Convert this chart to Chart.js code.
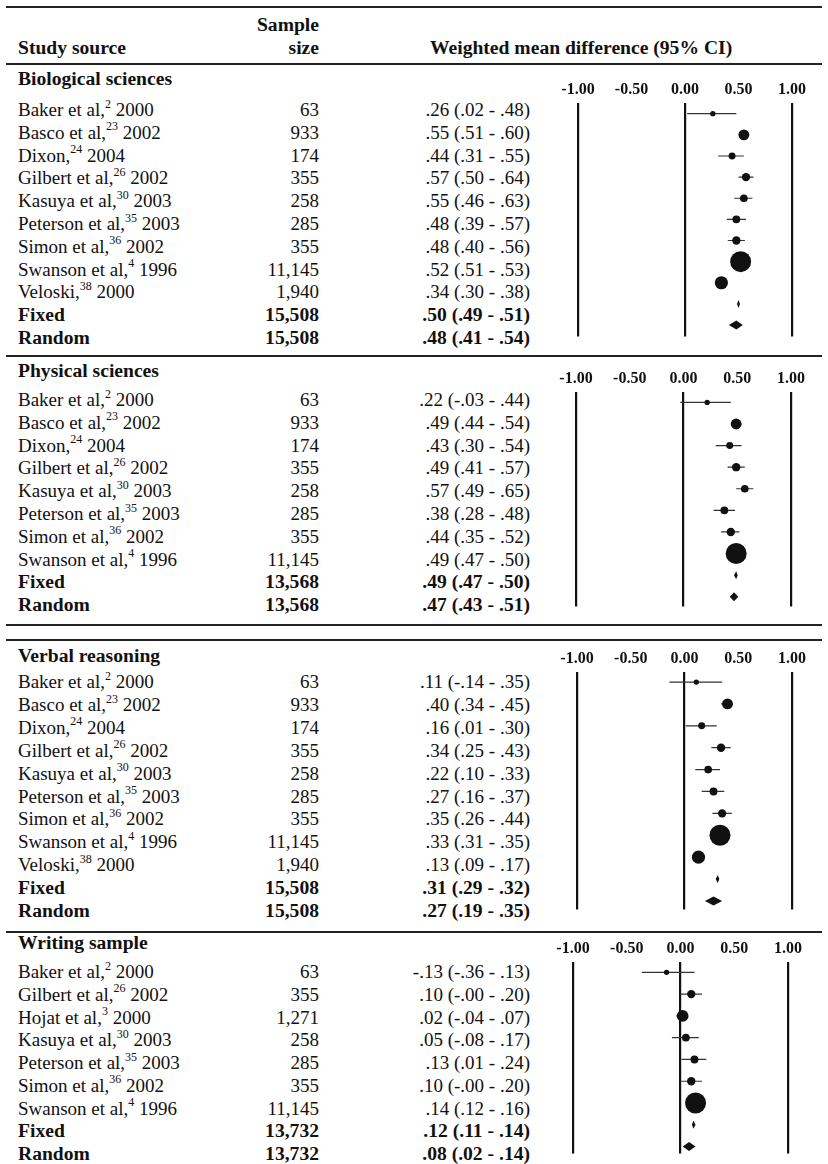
<!DOCTYPE html>
<html>
<head>
<meta charset="utf-8">
<script src="https://cdn.jsdelivr.net/npm/chart.js@4.4.1/dist/chart.umd.min.js"></script>
<style>
  html, body { margin: 0; padding: 0; background: #fff; }
  #page { position: relative; width: 828px; height: 1164px; overflow: hidden;
          font-family: "Liberation Serif", "Times New Roman", serif; color: #111; }
  .rule { position: absolute; left: 6px; width: 816px; height: 2px; background: #222; }
  .row { position: absolute; left: 0; width: 828px; height: 22px; line-height: 22px;
         font-size: 19px; white-space: nowrap; }
  .row span { position: absolute; top: 0; }
  .bold { font-weight: bold; font-size: 19.6px; }
  sup { font-size: 12px; line-height: 0; position: relative; top: -1px; }
  canvas { position: absolute; }
</style>
</head>
<body>
<div id="page"></div>
<script>
// studies (label, reference number, year)
const studyNames = ['Baker et al', 'Basco et al', 'Dixon', 'Gilbert et al', 'Hojat et al',
  'Kasuya et al', 'Peterson et al', 'Simon et al', 'Swanson et al', 'Veloski'];
const studyRefs = ['2', '23', '24', '26', '3', '30', '35', '36', '4', '38'];
const studyYears = ['2000', '2002', '2004', '2002', '2000', '2003', '2003', '2002', '1996', '2000'];

// Biological sciences
const bioStudies = ['Baker et al', 'Basco et al', 'Dixon', 'Gilbert et al', 'Kasuya et al',
  'Peterson et al', 'Simon et al', 'Swanson et al', 'Veloski'];
const bioN = [63, 933, 174, 355, 258, 285, 355, 11145, 1940];
const bioEst = [.26, .55, .44, .57, .55, .48, .48, .52, .34];
const bioLo = [.02, .51, .31, .50, .46, .39, .40, .51, .30];
const bioHi = [.48, .60, .55, .64, .63, .57, .56, .53, .38];
const bioTotal = 15508;
const bioFixed = [.50, .49, .51];
const bioRandom = [.48, .41, .54];

// Physical sciences
const physStudies = ['Baker et al', 'Basco et al', 'Dixon', 'Gilbert et al', 'Kasuya et al',
  'Peterson et al', 'Simon et al', 'Swanson et al'];
const physN = [63, 933, 174, 355, 258, 285, 355, 11145];
const physEst = [.22, .49, .43, .49, .57, .38, .44, .49];
const physLo = [-.03, .44, .30, .41, .49, .28, .35, .47];
const physHi = [.44, .54, .54, .57, .65, .48, .52, .50];
const physTotal = 13568;
const physFixed = [.49, .47, .50];
const physRandom = [.47, .43, .51];

// Verbal reasoning
const verbStudies = ['Baker et al', 'Basco et al', 'Dixon', 'Gilbert et al', 'Kasuya et al',
  'Peterson et al', 'Simon et al', 'Swanson et al', 'Veloski'];
const verbN = [63, 933, 174, 355, 258, 285, 355, 11145, 1940];
const verbEst = [.11, .40, .16, .34, .22, .27, .35, .33, .13];
const verbLo = [-.14, .34, .01, .25, .10, .16, .26, .31, .09];
const verbHi = [.35, .45, .30, .43, .33, .37, .44, .35, .17];
const verbTotal = 15508;
const verbFixed = [.31, .29, .32];
const verbRandom = [.27, .19, .35];

// Writing sample
const writStudies = ['Baker et al', 'Gilbert et al', 'Hojat et al', 'Kasuya et al',
  'Peterson et al', 'Simon et al', 'Swanson et al'];
const writN = [63, 355, 1271, 258, 285, 355, 11145];
const writEst = [-.13, .10, .02, .05, .13, .10, .14];
const writLo = [-.36, -0.00, -.04, -.08, .01, -0.00, .12];
const writHi = [.13, .20, .07, .17, .24, .20, .16];
const writTotal = 13732;
const writFixed = [.12, .11, .14];
const writRandom = [.08, .02, .14];

const axisTicks = [-1, -0.5, 0, 0.5, 1];

const panels = [
  { title: 'Biological sciences', studies: bioStudies, n: bioN, est: bioEst, lo: bioLo, hi: bioHi,
    total: bioTotal, fixed: bioFixed, random: bioRandom },
  { title: 'Physical sciences', studies: physStudies, n: physN, est: physEst, lo: physLo, hi: physHi,
    total: physTotal, fixed: physFixed, random: physRandom },
  { title: 'Verbal reasoning', studies: verbStudies, n: verbN, est: verbEst, lo: verbLo, hi: verbHi,
    total: verbTotal, fixed: verbFixed, random: verbRandom },
  { title: 'Writing sample', studies: writStudies, n: writN, est: writEst, lo: writLo, hi: writHi,
    total: writTotal, fixed: writFixed, random: writRandom }
];

// page layout (pixels)
const layout = [
  { titleY: 79, textY: 110, textStep: 22.8, x0: 578, x1: 792, top: 103, bottom: 347, dotY: 114, dotStep: 22.1 },
  { titleY: 371, textY: 400, textStep: 22.8, x0: 576, x1: 791, top: 392, bottom: 617, dotY: 402.7, dotStep: 22.67 },
  { titleY: 656, textY: 682, textStep: 22.9, x0: 577, x1: 792, top: 672, bottom: 920, dotY: 682.3, dotStep: 22.87 },
  { titleY: 943, textY: 972, textStep: 22.75, x0: 573, x1: 788, top: 962, bottom: 1164, dotY: 972.7, dotStep: 23 }
];
const rules = [7, 64, 356, 625, 640, 932];

const page = document.getElementById('page');

function fmt(v) {
  const neg = v < 0 || Object.is(v, -0);
  return (neg ? '-' : '') + Math.abs(v).toFixed(2).replace(/^0/, '');
}
function ciText(e, l, h) { return fmt(e) + ' (' + fmt(l) + ' - ' + fmt(h) + ')'; }

function addRow(cy, bold, label, n, ci) {
  const row = document.createElement('div');
  row.className = 'row' + (bold ? ' bold' : '');
  row.style.top = (cy - 11) + 'px';
  const a = document.createElement('span');
  a.style.left = '18px';
  a.innerHTML = label;
  row.appendChild(a);
  if (n !== undefined) {
    const b = document.createElement('span');
    b.style.right = (828 - 319) + 'px';
    b.textContent = n;
    row.appendChild(b);
  }
  if (ci !== undefined) {
    const c = document.createElement('span');
    c.style.right = (828 - 530) + 'px';
    c.textContent = ci;
    row.appendChild(c);
  }
  page.appendChild(row);
  return row;
}

rules.forEach(y => {
  const r = document.createElement('div');
  r.className = 'rule';
  r.style.top = (y - 1) + 'px';
  page.appendChild(r);
});

// header
addRow(25, true, '', 'Sample');
const head = addRow(48, true, 'Study source', 'size');
const wm = document.createElement('span');
wm.style.left = '430px';
wm.textContent = 'Weighted mean difference (95% CI)';
head.appendChild(wm);

function radius(n) { return 0.88 * Math.pow(n, 0.266); }

function diamonds(rows) {
  return {
    id: 'diamonds',
    afterDatasetsDraw(chart) {
      const { ctx, scales: { x, y } } = chart;
      ctx.save();
      ctx.fillStyle = '#111';
      rows.forEach(d => {
        const cy = y.getPixelForValue(d.row);
        const xm = x.getPixelForValue(d.est);
        const xl = Math.min(x.getPixelForValue(d.lo), xm - 1.5);
        const xr = Math.max(x.getPixelForValue(d.hi), xm + 1.5);
        ctx.beginPath();
        ctx.moveTo(xl, cy);
        ctx.lineTo(xm, cy - d.h);
        ctx.lineTo(xr, cy);
        ctx.lineTo(xm, cy + d.h);
        ctx.closePath();
        ctx.fill();
      });
      ctx.restore();
    }
  };
}

panels.forEach((p, k) => {
  const L = layout[k];
  addRow(L.titleY, true, p.title);
  p.studies.forEach((s, i) => {
    const j = studyNames.indexOf(s);
    const label = s + ',<sup>' + studyRefs[j] + '</sup> ' + studyYears[j];
    addRow(L.textY + i * L.textStep, false, label, p.n[i].toLocaleString('en-US'),
      ciText(p.est[i], p.lo[i], p.hi[i]));
  });
  const m = p.studies.length;
  addRow(L.textY + m * L.textStep, true, 'Fixed', p.total.toLocaleString('en-US'), ciText(...p.fixed));
  addRow(L.textY + (m + 1) * L.textStep, true, 'Random', p.total.toLocaleString('en-US'), ciText(...p.random));

  // forest plot
  const padX = 30, axisH = 27;
  const canvas = document.createElement('canvas');
  const w = L.x1 - L.x0 + 2 * padX;
  const h = L.bottom - L.top + axisH;
  canvas.width = w; canvas.height = h;
  canvas.style.left = (L.x0 - padX) + 'px';
  canvas.style.top = (L.top - axisH) + 'px';
  canvas.style.width = w + 'px'; canvas.style.height = h + 'px';
  page.appendChild(canvas);

  const yMin = -(L.dotY - L.top) / L.dotStep;
  const yMax = yMin + (L.bottom - L.top) / L.dotStep;

  const whisk = [];
  p.studies.forEach((s, i) => {
    whisk.push({ x: p.lo[i], y: i }, { x: p.hi[i], y: i }, { x: p.est[i], y: null });
  });
  const dots = p.studies.map((s, i) => ({ x: p.est[i], y: i, r: radius(p.n[i]) }));
  const summary = [
    { row: m, est: p.fixed[0], lo: p.fixed[1], hi: p.fixed[2], h: 4 },
    { row: m + 1, est: p.random[0], lo: p.random[1], hi: p.random[2], h: 4.5 }
  ];

  new Chart(canvas, {
    type: 'scatter',
    data: {
      datasets: [
        { type: 'bubble', data: dots, backgroundColor: '#111', borderWidth: 0, order: 0 },
        { type: 'line', data: whisk, borderColor: '#333', borderWidth: 1.2, pointRadius: 0,
          spanGaps: false, showLine: true, order: 1 }
      ]
    },
    options: {
      responsive: false,
      animation: false,
      layout: { padding: { left: padX, right: padX, top: 0, bottom: 0 } },
      plugins: { legend: { display: false }, tooltip: { enabled: false } },
      scales: {
        x: {
          type: 'linear', position: 'top', min: -1, max: 1,
          afterBuildTicks: ax => { ax.ticks = axisTicks.map(v => ({ value: v })); },
          ticks: {
            padding: 4, color: '#111',
            font: { family: '"Liberation Serif", serif', size: 16, weight: 'bold' },
            callback: v => v.toFixed(2)
          },
          grid: {
            drawTicks: false, lineWidth: 2.2,
            color: c => (c.tick && [-1, 0, 1].includes(c.tick.value)) ? '#111' : 'rgba(0,0,0,0)'
          },
          border: { display: false }
        },
        y: { type: 'linear', display: false, reverse: true, min: yMin, max: yMax }
      }
    },
    plugins: [diamonds(summary)]
  });
});
</script>
</body>
</html>
